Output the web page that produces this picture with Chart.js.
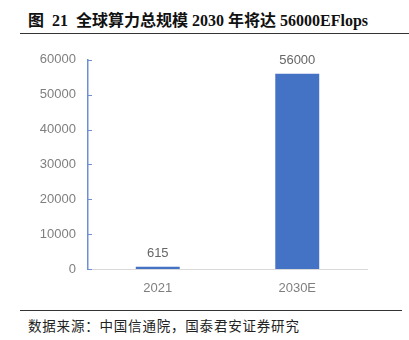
<!DOCTYPE html>
<html>
<head>
<meta charset="utf-8">
<script src="https://cdn.jsdelivr.net/npm/chart.js@4"></script>
<style>
  body { margin: 0; width: 409px; height: 340px; background: #fff; position: relative; overflow: hidden; }
  #title {
    position: absolute; left: 20px; top: 10px; width: 382px; height: 23px;
    border-bottom: 1.5px solid #333;
    font: bold 16px "Liberation Serif", "Noto Sans CJK SC", serif;
    color: #111; padding-left: 8px; box-sizing: content-box; line-height: 22px;
    white-space: pre;
  }
  #foot {
    position: absolute; left: 20px; top: 310px; width: 382px;
    border-top: 1.5px solid #333;
    font: 13.5px "Noto Sans CJK SC", sans-serif; color: #222; letter-spacing: 0.8px;
    padding-left: 8px; padding-top: 4px; box-sizing: border-box; white-space: pre;
  }
  #wrap { position: absolute; left: 0; top: 40px; width: 409px; height: 270px; }
</style>
</head>
<body>
<div id="title">图  21  全球算力总规模 2030 年将达 56000EFlops</div>
<div id="wrap"><canvas id="c"></canvas></div>
<div id="foot">数据来源：中国信通院，国泰君安证券研究</div>
<script>
const categories = ["2021", "2030E"];
const values = [615, 56000];
const yTicks = [0, 10000, 20000, 30000, 40000, 50000, 60000];

const barColor = "#4472C4";
const labelColor = "#7f7f7f";

// small tick marks pointing into the plot, plus value labels above bars
const extras = {
  id: "extras",
  afterDraw(chart) {
    const ctx = chart.ctx;
    const y = chart.scales.y;
    ctx.save();
    ctx.strokeStyle = "#6f8fd3";
    ctx.lineWidth = 1;
    yTicks.forEach(v => {
      const py = Math.round(y.getPixelForValue(v)) + 0.5;
      ctx.beginPath();
      ctx.moveTo(y.right, py);
      ctx.lineTo(y.right + 4, py);
      ctx.stroke();
    });
    ctx.fillStyle = "#666";
    ctx.font = "13px 'Liberation Sans', sans-serif";
    ctx.textAlign = "center";
    ctx.textBaseline = "bottom";
    chart.getDatasetMeta(0).data.forEach((bar, i) => {
      ctx.fillText(String(values[i]), bar.x, bar.y - 7);
    });
    ctx.restore();
  }
};

new Chart(document.getElementById("c"), {
  type: "bar",
  data: {
    labels: categories,
    datasets: [{
      data: values,
      backgroundColor: barColor,
      categoryPercentage: 1,
      barPercentage: 0.315
    }]
  },
  options: {
    responsive: true,
    maintainAspectRatio: false,
    animation: false,
    layout: { padding: { top: 19, right: 42, left: 0, bottom: 0 } },
    plugins: { legend: { display: false }, tooltip: { enabled: false } },
    scales: {
      x: {
        grid: { display: false, drawTicks: false },
        border: { color: "#d9d9d9", width: 1 },
        ticks: { color: labelColor, padding: 12, font: { family: "Liberation Sans", size: 13 } },
        afterFit(s) { s.height = 41; }
      },
      y: {
        min: 0, max: 60000,
        afterBuildTicks(s) { s.ticks = yTicks.map(v => ({ value: v })); },
        grid: { display: false, drawTicks: false },
        border: { color: "#6f8fd3", width: 1.5 },
        ticks: {
          color: labelColor, padding: 12, font: { family: "Liberation Sans", size: 13 },
          callback: v => String(v)
        },
        afterFit(s) { s.width = 88; }
      }
    }
  },
  plugins: [extras]
});
</script>
</body>
</html>
